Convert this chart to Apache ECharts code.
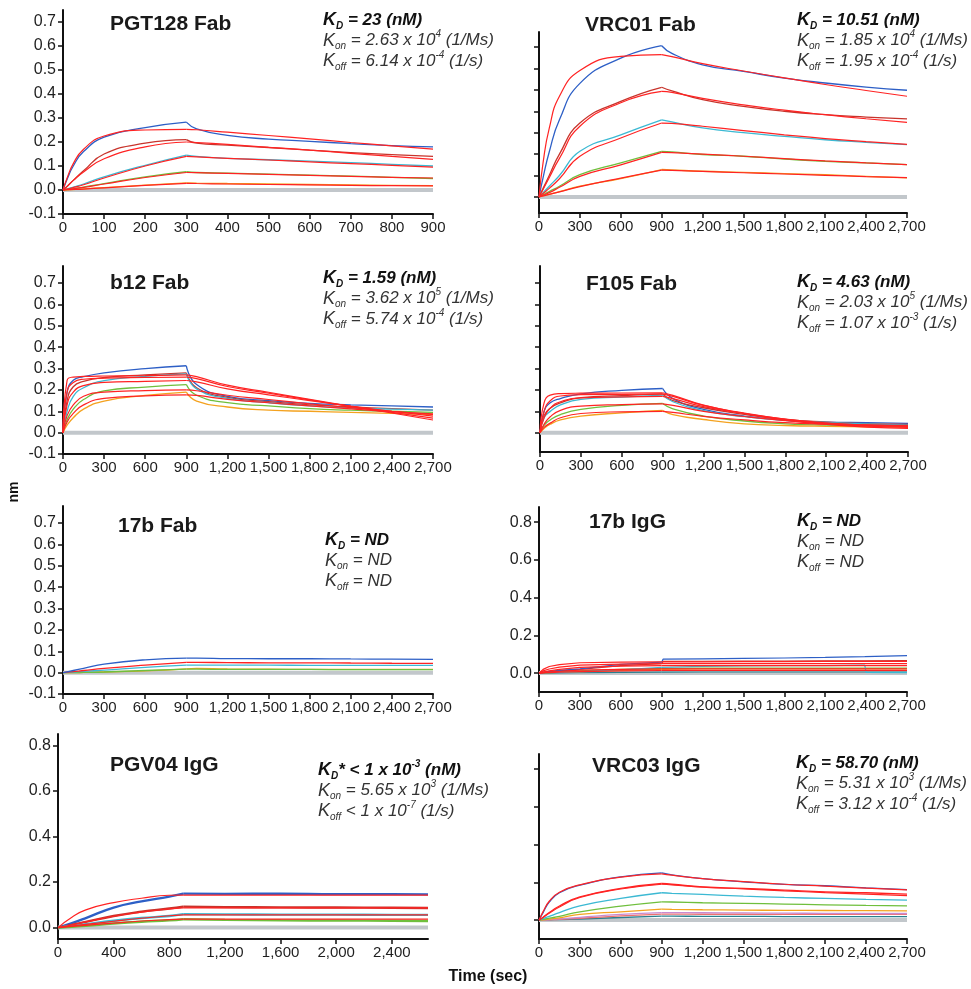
<!DOCTYPE html>
<html>
<head>
<meta charset="utf-8">
<script src="https://cdn.jsdelivr.net/npm/echarts@6/dist/echarts.min.js"></script>
<style>
  html, body { margin: 0; padding: 0; background: #fff; }
  #chart { width: 971px; height: 989px; }
</style>
</head>
<body>
<div id="chart"></div>
<script>
// ---- time points (sec) ----
const tPGT = [0, 10, 25, 50, 100, 200, 300, 325, 400, 500, 600, 700, 800, 900]
const tLong = [0, 30, 75, 150, 300, 600, 900, 975, 1200, 1500, 1800, 2100, 2400, 2700]
const t17bIgG = [0, 30, 75, 150, 300, 600, 900, 910, 1200, 1500, 1800, 2100, 2390, 2400, 2700]
const tPGV = [0, 100, 200, 400, 600, 800, 900, 1200, 1600, 2000, 2400, 2660]

// ---- tick labels ----
const yTicksLeft = [-0.1, 0, 0.1, 0.2, 0.3, 0.4, 0.5, 0.6, 0.7]
const yTicksRight = [0, 0.1, 0.2, 0.3, 0.4, 0.5, 0.6, 0.7]
const yTicksIgG = [0, 0.2, 0.4, 0.6, 0.8]
const xTicks900 = [0, 100, 200, 300, 400, 500, 600, 700, 800, 900]
const xTicks2700 = [0, 300, 600, 900, 1200, 1500, 1800, 2100, 2400, 2700]
const xTicksPGV = [0, 400, 800, 1200, 1600, 2000, 2400]

// ---- PGT128 Fab (nm) ----
const pgtBlue = [0, 0.045, 0.1, 0.16, 0.22, 0.26, 0.283, 0.255, 0.228, 0.212, 0.203, 0.193, 0.185, 0.18]
const pgtDkRed = [0, 0.015, 0.04, 0.08, 0.15, 0.195, 0.21, 0.195, 0.187, 0.177, 0.166, 0.156, 0.147, 0.14]
const pgtCyan = [0, 0.004, 0.012, 0.025, 0.055, 0.103, 0.145, 0.14, 0.132, 0.126, 0.12, 0.114, 0.107, 0.1]
const pgtGreen = [0, 0.002, 0.005, 0.012, 0.027, 0.055, 0.076, 0.073, 0.07, 0.066, 0.062, 0.058, 0.053, 0.048]
const pgtOrange = [0, 0.001, 0.002, 0.005, 0.01, 0.02, 0.03, 0.029, 0.027, 0.025, 0.023, 0.021, 0.019, 0.018]
const pgtFit1 = [0, 0.05, 0.11, 0.17, 0.225, 0.25, 0.253, 0.251, 0.241, 0.227, 0.213, 0.198, 0.184, 0.17]
const pgtFit2 = [0, 0.015, 0.04, 0.075, 0.13, 0.18, 0.2, 0.198, 0.19, 0.178, 0.166, 0.153, 0.14, 0.128]
const pgtFit3 = [0, 0.004, 0.01, 0.022, 0.05, 0.1, 0.14, 0.138, 0.132, 0.125, 0.117, 0.11, 0.103, 0.095]
const pgtFit4 = [0, 0.002, 0.005, 0.011, 0.025, 0.052, 0.073, 0.072, 0.069, 0.065, 0.061, 0.057, 0.053, 0.05]
const pgtFit5 = [0, 0.001, 0.002, 0.004, 0.009, 0.019, 0.028, 0.027, 0.025, 0.023, 0.021, 0.019, 0.018, 0.017]

// ---- VRC01 Fab ----
const vrc01Blue = [0, 0.09, 0.21, 0.36, 0.53, 0.648, 0.706, 0.67, 0.617, 0.586, 0.555, 0.532, 0.513, 0.498]
const vrc01DkRed = [0, 0.04, 0.1, 0.2, 0.345, 0.446, 0.512, 0.495, 0.454, 0.423, 0.4, 0.384, 0.373, 0.364]
const vrc01Cyan = [0, 0.02, 0.05, 0.1, 0.213, 0.29, 0.36, 0.35, 0.322, 0.3, 0.283, 0.267, 0.255, 0.244]
const vrc01Green = [0, 0.01, 0.025, 0.05, 0.104, 0.159, 0.213, 0.21, 0.198, 0.19, 0.177, 0.166, 0.159, 0.151]
const vrc01Orange = [0, 0.005, 0.012, 0.025, 0.05, 0.086, 0.128, 0.126, 0.12, 0.115, 0.109, 0.104, 0.096, 0.089]
const vrc01Fit1 = [0, 0.16, 0.32, 0.47, 0.59, 0.656, 0.664, 0.655, 0.622, 0.588, 0.556, 0.525, 0.497, 0.47]
const vrc01Fit2 = [0, 0.035, 0.09, 0.18, 0.33, 0.44, 0.493, 0.488, 0.46, 0.43, 0.405, 0.384, 0.365, 0.348]
const vrc01Fit3 = [0, 0.016, 0.04, 0.085, 0.19, 0.275, 0.345, 0.343, 0.33, 0.31, 0.29, 0.272, 0.258, 0.245]
const vrc01Fit4 = [0, 0.008, 0.02, 0.045, 0.096, 0.15, 0.208, 0.207, 0.2, 0.19, 0.179, 0.168, 0.159, 0.151]
const vrc01Fit5 = [0, 0.005, 0.012, 0.024, 0.048, 0.088, 0.125, 0.124, 0.119, 0.113, 0.107, 0.101, 0.095, 0.09]

// ---- b12 Fab ----
const b12Blue = [0, 0.19, 0.245, 0.262, 0.28, 0.3, 0.313, 0.225, 0.17, 0.15, 0.137, 0.13, 0.125, 0.12]
const b12DkRed = [0, 0.15, 0.215, 0.24, 0.258, 0.27, 0.28, 0.21, 0.165, 0.145, 0.13, 0.12, 0.112, 0.105]
const b12Cyan = [0, 0.1, 0.17, 0.21, 0.243, 0.263, 0.275, 0.205, 0.16, 0.14, 0.125, 0.115, 0.11, 0.105]
const b12Green = [0, 0.06, 0.11, 0.155, 0.195, 0.213, 0.225, 0.175, 0.14, 0.125, 0.112, 0.105, 0.1, 0.095]
const b12Orange = [0, 0.035, 0.07, 0.11, 0.148, 0.174, 0.19, 0.148, 0.12, 0.105, 0.1, 0.095, 0.09, 0.085]
const b12Fit1 = [0, 0.245, 0.26, 0.263, 0.265, 0.267, 0.27, 0.262, 0.222, 0.189, 0.156, 0.123, 0.092, 0.059]
const b12Fit2 = [0, 0.19, 0.235, 0.25, 0.255, 0.258, 0.26, 0.253, 0.216, 0.185, 0.153, 0.123, 0.095, 0.068]
const b12Fit3 = [0, 0.13, 0.19, 0.22, 0.235, 0.24, 0.244, 0.238, 0.205, 0.177, 0.15, 0.124, 0.1, 0.077]
const b12Fit4 = [0, 0.08, 0.13, 0.17, 0.19, 0.197, 0.2, 0.196, 0.175, 0.155, 0.135, 0.117, 0.1, 0.085]
const b12Fit5 = [0, 0.05, 0.09, 0.13, 0.16, 0.172, 0.177, 0.174, 0.156, 0.14, 0.125, 0.111, 0.098, 0.088]

// ---- F105 Fab ----
const f105Blue = [0, 0.1, 0.14, 0.16, 0.182, 0.198, 0.207, 0.16, 0.109, 0.078, 0.058, 0.05, 0.047, 0.044]
const f105DkRed = [0, 0.08, 0.115, 0.14, 0.164, 0.174, 0.182, 0.15, 0.117, 0.086, 0.062, 0.05, 0.043, 0.039]
const f105Cyan = [0, 0.07, 0.1, 0.13, 0.156, 0.167, 0.176, 0.145, 0.104, 0.075, 0.058, 0.048, 0.041, 0.036]
const f105Green = [0, 0.035, 0.06, 0.085, 0.109, 0.128, 0.137, 0.112, 0.078, 0.055, 0.042, 0.036, 0.033, 0.031]
const f105Orange = [0, 0.02, 0.04, 0.06, 0.078, 0.093, 0.104, 0.085, 0.062, 0.042, 0.034, 0.03, 0.028, 0.026]
const f105Fit1 = [0, 0.14, 0.176, 0.183, 0.185, 0.186, 0.187, 0.175, 0.129, 0.09, 0.059, 0.039, 0.026, 0.02]
const f105Fit2 = [0, 0.1, 0.15, 0.172, 0.178, 0.18, 0.181, 0.17, 0.128, 0.092, 0.063, 0.043, 0.031, 0.025]
const f105Fit3 = [0, 0.07, 0.115, 0.145, 0.163, 0.168, 0.17, 0.16, 0.122, 0.09, 0.064, 0.046, 0.035, 0.03]
const f105Fit4 = [0, 0.04, 0.075, 0.105, 0.125, 0.132, 0.135, 0.128, 0.1, 0.076, 0.057, 0.044, 0.037, 0.033]
const f105Fit5 = [0, 0.025, 0.045, 0.07, 0.09, 0.098, 0.1, 0.095, 0.077, 0.06, 0.047, 0.04, 0.036, 0.034]

// ---- 17b Fab ----
const b17fBlue = [0, 0.004, 0.01, 0.02, 0.04, 0.06, 0.068, 0.068, 0.066, 0.065, 0.065, 0.064, 0.063, 0.062]
const b17fRed = [0, 0.002, 0.005, 0.01, 0.02, 0.035, 0.048, 0.048, 0.047, 0.046, 0.046, 0.045, 0.044, 0.043]
const b17fCyan = [0, 0.001, 0.003, 0.006, 0.012, 0.025, 0.035, 0.035, 0.035, 0.035, 0.034, 0.034, 0.034, 0.034]
const b17fGreen = [0, 0, 0, 0.001, 0.003, 0.01, 0.016, 0.016, 0.015, 0.015, 0.015, 0.014, 0.014, 0.014]
const b17fOrange = [0, 0, 0, 0.001, 0.003, 0.008, 0.018, 0.02, 0.017, 0.016, 0.015, 0.015, 0.015, 0.015]

// ---- 17b IgG ----
const b17iBlue = [0, 0.004, 0.009, 0.015, 0.023, 0.046, 0.058, 0.074, 0.076, 0.078, 0.08, 0.083, 0.087, 0.087, 0.093]
const b17iDkRed = [0, 0.003, 0.007, 0.012, 0.02, 0.04, 0.05, 0.062, 0.063, 0.064, 0.064, 0.065, 0.065, 0.065, 0.066]
const b17iCyan = [0, 0.001, 0.002, 0.004, 0.008, 0.018, 0.03, 0.033, 0.036, 0.038, 0.039, 0.04, 0.042, 0.004, 0.003]
const b17iTeal = [0, 0, 0, 0.001, 0.002, 0.004, 0.005, 0.006, 0.006, 0.006, 0.006, 0.006, 0.006, 0.006, 0.006]
const b17iGreen = [0, 0.001, 0.003, 0.006, 0.012, 0.02, 0.025, 0.026, 0.026, 0.027, 0.027, 0.027, 0.027, 0.027, 0.027]
const b17iOrange = [0, 0.001, 0.002, 0.004, 0.008, 0.015, 0.02, 0.021, 0.022, 0.022, 0.022, 0.022, 0.022, 0.022, 0.022]
const b17iFit1 = [0, 0.02, 0.035, 0.045, 0.055, 0.058, 0.06, 0.06, 0.06, 0.061, 0.061, 0.062, 0.062, 0.062, 0.062]
const b17iFit2 = [0, 0.012, 0.022, 0.032, 0.042, 0.048, 0.05, 0.05, 0.05, 0.05, 0.05, 0.05, 0.05, 0.05, 0.05]
const b17iFit3 = [0, 0.006, 0.012, 0.02, 0.03, 0.037, 0.04, 0.04, 0.04, 0.04, 0.04, 0.04, 0.04, 0.04, 0.04]
const b17iFit4 = [0, 0.003, 0.006, 0.01, 0.016, 0.02, 0.022, 0.022, 0.022, 0.022, 0.022, 0.022, 0.022, 0.022, 0.022]
const b17iFit5 = [0, 0.001, 0.003, 0.005, 0.008, 0.012, 0.014, 0.014, 0.014, 0.014, 0.014, 0.014, 0.014, 0.014, 0.014]

// ---- PGV04 IgG ----
const pgvBlue = [0, 0.02, 0.042, 0.088, 0.115, 0.136, 0.149, 0.148, 0.149, 0.147, 0.147, 0.146]
const pgvDkRed = [0, 0.012, 0.025, 0.051, 0.07, 0.084, 0.092, 0.09, 0.089, 0.088, 0.087, 0.086]
const pgvCyan = [0, 0.007, 0.015, 0.03, 0.042, 0.051, 0.059, 0.058, 0.057, 0.057, 0.056, 0.056]
const pgvGreen = [0, 0.004, 0.008, 0.018, 0.026, 0.032, 0.037, 0.034, 0.032, 0.031, 0.03, 0.029]
const pgvFit1 = [0, 0.045, 0.078, 0.11, 0.129, 0.142, 0.143, 0.143, 0.143, 0.143, 0.143, 0.143]
const pgvFit2 = [0, 0.012, 0.025, 0.05, 0.068, 0.082, 0.087, 0.087, 0.087, 0.087, 0.087, 0.087]
const pgvFit3 = [0, 0.007, 0.014, 0.028, 0.041, 0.052, 0.056, 0.056, 0.056, 0.056, 0.056, 0.056]
const pgvFit4 = [0, 0.005, 0.01, 0.02, 0.029, 0.035, 0.037, 0.037, 0.037, 0.037, 0.037, 0.037]

// ---- VRC03 IgG ----
const vrc03Blue = [0, 0.04, 0.095, 0.145, 0.185, 0.229, 0.25, 0.24, 0.22, 0.203, 0.189, 0.182, 0.171, 0.162]
const vrc03Red = [0, 0.015, 0.04, 0.075, 0.123, 0.168, 0.194, 0.19, 0.176, 0.168, 0.159, 0.15, 0.145, 0.138]
const vrc03Cyan = [0, 0.008, 0.02, 0.04, 0.076, 0.115, 0.145, 0.142, 0.136, 0.127, 0.12, 0.115, 0.11, 0.106]
const vrc03Green = [0, 0.004, 0.01, 0.02, 0.044, 0.074, 0.097, 0.096, 0.092, 0.089, 0.085, 0.081, 0.078, 0.076]
const vrc03Orange = [0, 0.002, 0.005, 0.012, 0.03, 0.044, 0.058, 0.057, 0.055, 0.053, 0.052, 0.051, 0.05, 0.049]
const vrc03Violet = [0, 0.001, 0.003, 0.007, 0.015, 0.03, 0.04, 0.04, 0.039, 0.038, 0.037, 0.036, 0.035, 0.035]
const vrc03Pink = [0, 0.001, 0.002, 0.004, 0.01, 0.022, 0.032, 0.032, 0.031, 0.031, 0.03, 0.03, 0.03, 0.03]
const vrc03Teal = [0, 0.001, 0.002, 0.003, 0.006, 0.014, 0.021, 0.021, 0.02, 0.02, 0.019, 0.019, 0.018, 0.018]
const vrc03Fit1 = [0, 0.045, 0.1, 0.148, 0.187, 0.228, 0.245, 0.238, 0.22, 0.204, 0.19, 0.18, 0.17, 0.16]
const vrc03Fit2 = [0, 0.014, 0.036, 0.07, 0.12, 0.165, 0.19, 0.187, 0.175, 0.165, 0.155, 0.146, 0.138, 0.13]

// ---- texts ----
const panelTitles = ['PGT128 Fab', 'VRC01 Fab', 'b12 Fab', 'F105 Fab', '17b Fab', '17b IgG', 'PGV04 IgG', 'VRC03 IgG']
const kdLines = [
  '{kb|K}{sb|D}{b| = 23 (nM)}',
  '{kb|K}{sb|D}{b| = 10.51 (nM)}',
  '{kb|K}{sb|D}{b| = 1.59 (nM)}',
  '{kb|K}{sb|D}{b| = 4.63 (nM)}',
  '{kb|K}{sb|D}{b| = ND}',
  '{kb|K}{sb|D}{b| = ND}',
  '{kb|K}{sb|D}{b|* < 1 x 10}{pb|-3}{b| (nM)}',
  '{kb|K}{sb|D}{b| = 58.70 (nM)}'
]
const konLines = [
  '{k|K}{s|on}{n| = 2.63 x 10}{p|4}{n| (1/Ms)}',
  '{k|K}{s|on}{n| = 1.85 x 10}{p|4}{n| (1/Ms)}',
  '{k|K}{s|on}{n| = 3.62 x 10}{p|5}{n| (1/Ms)}',
  '{k|K}{s|on}{n| = 2.03 x 10}{p|5}{n| (1/Ms)}',
  '{k|K}{s|on}{n| = ND}',
  '{k|K}{s|on}{n| = ND}',
  '{k|K}{s|on}{n| = 5.65 x 10}{p|3}{n| (1/Ms)}',
  '{k|K}{s|on}{n| = 5.31 x 10}{p|3}{n| (1/Ms)}'
]
const koffLines = [
  '{k|K}{s|off}{n| = 6.14 x 10}{p|-4}{n| (1/s)}',
  '{k|K}{s|off}{n| = 1.95 x 10}{p|-4}{n| (1/s)}',
  '{k|K}{s|off}{n| = 5.74 x 10}{p|-4}{n| (1/s)}',
  '{k|K}{s|off}{n| = 1.07 x 10}{p|-3}{n| (1/s)}',
  '{k|K}{s|off}{n| = ND}',
  '{k|K}{s|off}{n| = ND}',
  '{k|K}{s|off}{n| < 1 x 10}{p|-7}{n| (1/s)}',
  '{k|K}{s|off}{n| = 3.12 x 10}{p|-4}{n| (1/s)}'
]

const BLUE = '#2d5fc6'
const DRED = '#c8342c'
const CYAN = '#3cb9d3'
const GREEN = '#6fbf3d'
const ORANGE = '#f4a21f'
const FIT = '#ff2323'
const VIOLET = '#c98bd0'
const PINK = '#ef6f6f'
const TEAL = '#2c7f8e'
const GREY = '#c2c7cb'
const FONT = '"Liberation Sans", Arial, Helvetica, sans-serif'

// layout of the 8 panels (pixel boxes + axis ranges)
const layout = [
  { left: 63, top: 10, width: 370, height: 204, yMin: -0.1, yMax: 0.75, xMax: 900, yTicks: yTicksLeft, yLabels: true, xTicks: xTicks900, title: [110, 24], kin: [323, 20] },
  { left: 539, top: 32, width: 368, height: 181, yMin: -0.075, yMax: 0.77, xMax: 2700, yTicks: yTicksRight, yLabels: false, xTicks: xTicks2700, title: [585, 25], kin: [797, 20] },
  { left: 63, top: 266, width: 370, height: 188, yMin: -0.1, yMax: 0.78, xMax: 2700, yTicks: yTicksLeft, yLabels: true, xTicks: xTicks2700, title: [110, 283], kin: [323, 278] },
  { left: 540, top: 266, width: 368, height: 186, yMin: -0.09, yMax: 0.78, xMax: 2700, yTicks: yTicksRight, yLabels: false, xTicks: xTicks2700, title: [586, 284], kin: [797, 282] },
  { left: 63, top: 506, width: 370, height: 188, yMin: -0.1, yMax: 0.78, xMax: 2700, yTicks: yTicksLeft, yLabels: true, xTicks: xTicks2700, title: [118, 526], kin: [325, 540] },
  { left: 539, top: 507, width: 368, height: 185, yMin: -0.1, yMax: 0.88, xMax: 2700, yTicks: yTicksIgG, yLabels: true, xTicks: xTicks2700, title: [589, 522], kin: [797, 521] },
  { left: 58, top: 734, width: 370, height: 205, yMin: -0.05, yMax: 0.85, xMax: 2660, yTicks: yTicksIgG, yLabels: true, xTicks: xTicksPGV, title: [110, 765], kin: [318, 770] },
  { left: 539, top: 754, width: 368, height: 185, yMin: -0.1, yMax: 0.88, xMax: 2700, yTicks: yTicksIgG, yLabels: false, xTicks: xTicks2700, title: [592, 766], kin: [796, 763] }
]

const panels = [
  { t: tPGT, split: 300, w: 1.3, smooth: 0.5,
    data: [[pgtBlue, BLUE], [pgtDkRed, DRED], [pgtCyan, CYAN], [pgtGreen, GREEN], [pgtOrange, ORANGE]],
    fits: [pgtFit1, pgtFit2, pgtFit3, pgtFit4, pgtFit5] },
  { t: tLong, split: 900, w: 1.3, smooth: 0.5,
    data: [[vrc01Blue, BLUE], [vrc01DkRed, DRED], [vrc01Cyan, CYAN], [vrc01Green, GREEN], [vrc01Orange, ORANGE]],
    fits: [vrc01Fit1, vrc01Fit2, vrc01Fit3, vrc01Fit4, vrc01Fit5] },
  { t: tLong, split: 900, w: 1.3, smooth: 0.5,
    data: [[b12Blue, BLUE], [b12DkRed, DRED], [b12Cyan, CYAN], [b12Green, GREEN], [b12Orange, ORANGE]],
    fits: [b12Fit1, b12Fit2, b12Fit3, b12Fit4, b12Fit5] },
  { t: tLong, split: 900, w: 1.3, smooth: 0.5,
    data: [[f105Blue, BLUE], [f105DkRed, DRED], [f105Cyan, CYAN], [f105Green, GREEN], [f105Orange, ORANGE]],
    fits: [f105Fit1, f105Fit2, f105Fit3, f105Fit4, f105Fit5] },
  { t: tLong, split: 900, w: 1.3, smooth: 0.5,
    data: [[b17fOrange, ORANGE], [b17fGreen, GREEN], [b17fCyan, CYAN], [b17fRed, FIT], [b17fBlue, BLUE]],
    fits: [] },
  { t: t17bIgG, split: 900, w: 1.2, smooth: 0,
    data: [[b17iTeal, TEAL], [b17iOrange, ORANGE], [b17iGreen, GREEN], [b17iCyan, CYAN], [b17iDkRed, DRED], [b17iBlue, BLUE]],
    fits: [b17iFit1, b17iFit2, b17iFit3, b17iFit4, b17iFit5] },
  { t: tPGV, split: 900, w: 2.4, smooth: 0.5,
    data: [[pgvBlue, BLUE], [pgvDkRed, DRED], [pgvCyan, CYAN], [pgvGreen, GREEN]],
    fits: [pgvFit1, pgvFit2, pgvFit3, pgvFit4] },
  { t: tLong, split: 900, w: 1.3, smooth: 0.5,
    data: [[vrc03Teal, TEAL], [vrc03Pink, PINK], [vrc03Violet, VIOLET], [vrc03Orange, ORANGE], [vrc03Green, GREEN], [vrc03Cyan, CYAN], [vrc03Red, FIT], [vrc03Blue, BLUE]],
    fits: [vrc03Fit1, vrc03Fit2] }
]

// one curve = association part + dissociation part (keeps the kink sharp)
function trace(i, times, vals, color, width, split, smooth, z) {
  const pts = times.map((t, k) => [t, vals[k]])
  const k = times.indexOf(split)
  const base = {
    type: 'line', xAxisIndex: i, yAxisIndex: i, symbol: 'none', showSymbol: false,
    smooth, silent: true, z,
    lineStyle: { color, width }
  }
  return [
    Object.assign({}, base, { data: pts.slice(0, k + 1) }),
    Object.assign({}, base, { data: pts.slice(k) })
  ]
}

const grid = []
const xAxis = []
const yAxis = []
let series = []
const axisColor = '#111'

layout.forEach((L, i) => {
  grid.push({ left: L.left, top: L.top, width: L.width, height: L.height })
  xAxis.push({
    gridIndex: i, type: 'value', min: 0, max: L.xMax,
    axisLine: { onZero: false, lineStyle: { color: axisColor, width: 2 } },
    axisTick: { show: true, customValues: L.xTicks, length: 5, lineStyle: { color: axisColor, width: 1.5 } },
    axisLabel: {
      customValues: L.xTicks, color: '#1e1e1e', fontSize: 15, fontFamily: FONT, margin: 6,
      formatter: v => Number(v).toLocaleString('en-US')
    },
    splitLine: { show: false }
  })
  yAxis.push({
    gridIndex: i, type: 'value', min: L.yMin, max: L.yMax,
    axisLine: { show: true, onZero: false, lineStyle: { color: axisColor, width: 2 } },
    axisTick: { show: true, customValues: L.yTicks, length: 5, lineStyle: { color: axisColor, width: 1.5 } },
    axisLabel: {
      show: L.yLabels, customValues: L.yTicks, color: '#1e1e1e', fontSize: 16, fontFamily: FONT, margin: 7,
      formatter: v => Number(v).toFixed(1)
    },
    splitLine: { show: false }
  })

  const P = panels[i]
  // grey reference (buffer) trace
  series.push({
    type: 'line', xAxisIndex: i, yAxisIndex: i, symbol: 'none', silent: true, z: 1,
    data: [[P.t[0], 0], [P.t[P.t.length - 1], 0]],
    lineStyle: { color: GREY, width: 4 }
  })
  P.data.forEach(([vals, color]) => {
    series = series.concat(trace(i, P.t, vals, color, P.w, P.split, P.smooth, 2))
  })
  P.fits.forEach(vals => {
    series = series.concat(trace(i, P.t, vals, FIT, 1.2, P.split, P.smooth, 3))
  })
})

// rich text styles for the kinetic constants
const bi = { fontFamily: FONT, fontStyle: 'italic', fontWeight: 'bold', fill: '#111' }
const ni = { fontFamily: FONT, fontStyle: 'italic', fontWeight: 'normal', fill: '#333' }
const rich = {
  kb: Object.assign({ fontSize: 18, lineHeight: 22 }, bi),
  b: Object.assign({ fontSize: 17, lineHeight: 22 }, bi),
  sb: Object.assign({ fontSize: 10, lineHeight: 8, verticalAlign: 'bottom' }, bi),
  pb: Object.assign({ fontSize: 10, lineHeight: 11, verticalAlign: 'top' }, bi),
  k: Object.assign({ fontSize: 18, lineHeight: 22 }, ni),
  n: Object.assign({ fontSize: 17, lineHeight: 22 }, ni),
  s: Object.assign({ fontSize: 10, lineHeight: 8, verticalAlign: 'bottom' }, ni),
  p: Object.assign({ fontSize: 10, lineHeight: 11, verticalAlign: 'top' }, ni)
}

const graphic = []
layout.forEach((L, i) => {
  graphic.push({
    type: 'text', x: L.title[0], y: L.title[1], silent: true,
    style: { text: panelTitles[i], fontSize: 21, fontWeight: 'bold', fontFamily: FONT, fill: '#1a1a1a', verticalAlign: 'middle' }
  });
  [kdLines[i], konLines[i], koffLines[i]].forEach((txt, j) => {
    graphic.push({
      type: 'text', x: L.kin[0], y: L.kin[1] + j * 20.5, silent: true,
      style: { text: txt, rich, fontSize: 17, fontFamily: FONT, verticalAlign: 'middle' }
    })
  })
})
graphic.push({
  type: 'text', x: 14, y: 492, rotation: Math.PI / 2, silent: true,
  style: { text: 'nm', fontSize: 14, fontWeight: 'bold', fontFamily: FONT, fill: '#111', align: 'center', verticalAlign: 'middle' }
})
graphic.push({
  type: 'text', x: 488, y: 977, silent: true,
  style: { text: 'Time (sec)', fontSize: 16, fontWeight: 'bold', fontFamily: FONT, fill: '#111', align: 'center', verticalAlign: 'middle' }
})

const chart = echarts.init(document.getElementById('chart'), null, { renderer: 'canvas' })
chart.setOption({
  animation: false,
  backgroundColor: '#fff',
  grid,
  xAxis,
  yAxis,
  series,
  graphic
})
</script>
</body>
</html>
